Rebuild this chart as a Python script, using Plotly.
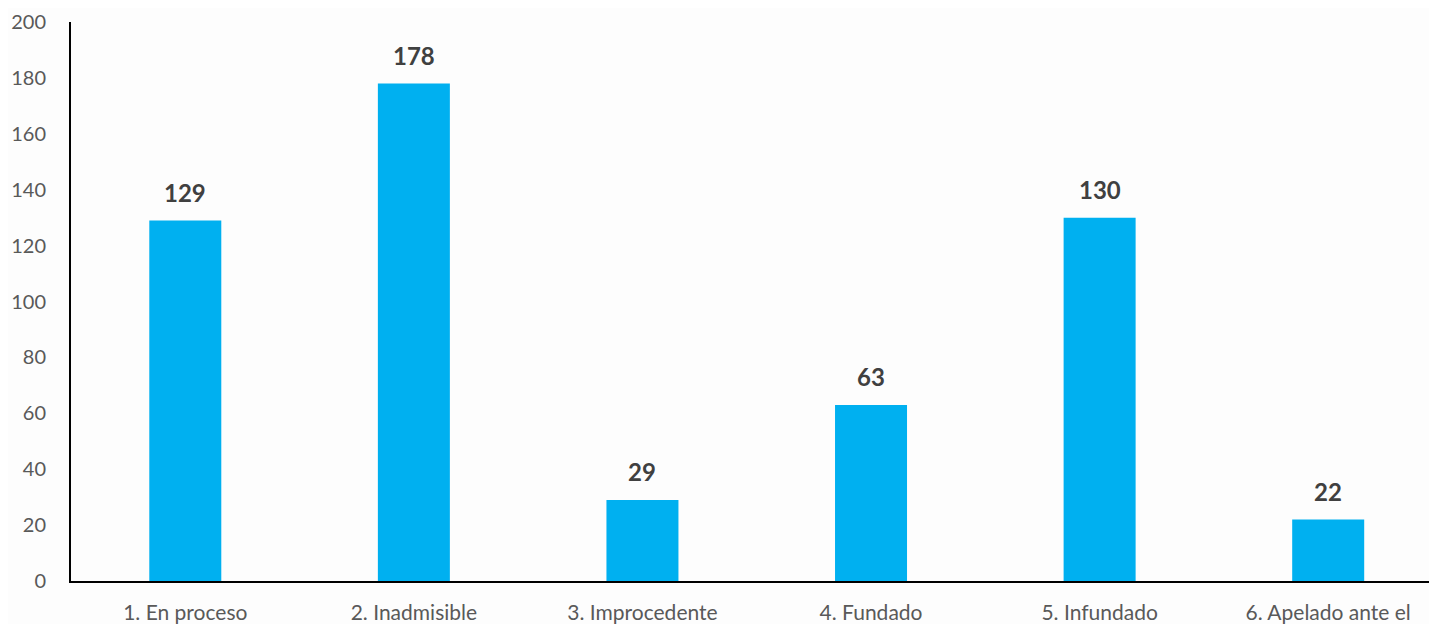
import plotly.graph_objects as go

categories = ["1. En proceso", "2. Inadmisible", "3. Improcedente", "4. Fundado", "5. Infundado", "6. Apelado ante el"]
values = [129, 178, 29, 63, 130, 22]
y_ticks = [0, 20, 40, 60, 80, 100, 120, 140, 160, 180, 200]

fig = go.Figure()
fig.add_trace(go.Bar(
    x=categories, y=values, width=0.315,
    marker=dict(color="#00B0F0", line=dict(width=0)),
    hoverinfo="x+y",
))
for c, v in zip(categories, values):
    fig.add_annotation(x=c, y=v, text=f"<b>{v}</b>", showarrow=False,
                       yshift=28, font=dict(family="Lato, Carlito, sans-serif", size=24, color="#404040"))

fig.update_layout(
    width=1429, height=616,
    margin=dict(l=63, r=0, t=14, b=43),
    paper_bgcolor="#FDFDFD", plot_bgcolor="#FDFDFD",
    showlegend=False,
    font=dict(family="Lato, Carlito, sans-serif", size=21, color="#595959"),
    xaxis=dict(
        range=[-0.5, 5.476], showline=True, linecolor="#000000", linewidth=2,
        showgrid=False, zeroline=False, ticks="", ticklabelstandoff=12,
        tickfont=dict(size=21, color="#595959"),
    ),
    yaxis=dict(
        range=[0, 200], tickvals=y_ticks, showline=True, linecolor="#000000", linewidth=2,
        showgrid=False, zeroline=False, ticks="", ticklabelstandoff=19,
        tickfont=dict(size=20, color="#595959"),
    ),
)
fig.write_html("out.html")
